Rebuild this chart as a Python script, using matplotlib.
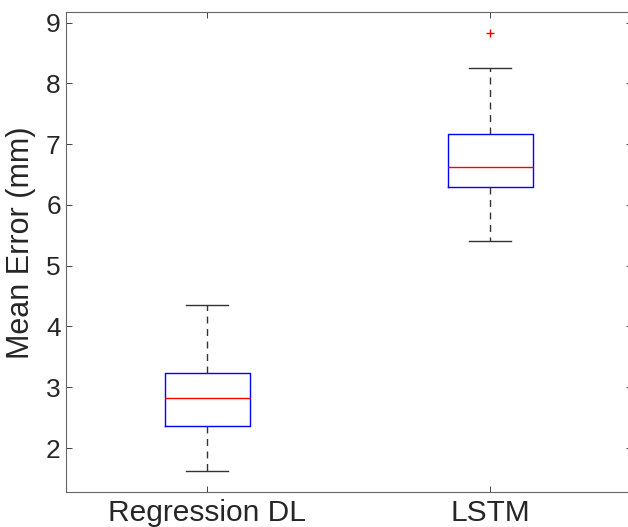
import matplotlib
matplotlib.use('Agg')
import matplotlib.pyplot as plt

# box statistics
labels = ['Regression DL', 'LSTM']
whislo = [1.62, 5.41]
q1 = [2.37, 6.30]
med = [2.82, 6.62]
q3 = [3.23, 7.16]
whishi = [4.35, 8.25]
fliers = [[], [8.83]]

plt.rcParams['font.family'] = ['Liberation Sans', 'DejaVu Sans']

stats = []
for i in range(len(labels)):
    stats.append({'label': labels[i], 'whislo': whislo[i], 'q1': q1[i], 'med': med[i],
                  'q3': q3[i], 'whishi': whishi[i], 'fliers': fliers[i]})

fig = plt.figure(figsize=(6.28, 5.27), dpi=100)
ax = fig.add_axes([65.7 / 628, 35 / 527, 566 / 628, 480 / 527])

ax.bxp(stats, positions=[1, 2], widths=0.3,
       boxprops=dict(color='#0000ff', linewidth=1.0),
       medianprops=dict(color='#ff0000', linewidth=1.0),
       whiskerprops=dict(color='#333333', linestyle=(0, (5, 4)), linewidth=1.0),
       capprops=dict(color='#333333', linewidth=1.0),
       capwidths=0.15,
       flierprops=dict(marker='+', markeredgecolor='#ff0000', markersize=6, linestyle='none'))

ax.set_xlim(0.5, 2.5)
ax.set_ylim(1.276, 9.176)
ax.set_yticks(range(2, 10))
ax.set_ylabel('Mean Error (mm)', fontsize=22, color='#262626')
ax.yaxis.set_label_coords(-0.052, 0.52)
ax.tick_params(direction='in', top=True, right=True, labelsize=19,
               colors='#262626', length=4, width=0.6)
ax.tick_params(axis='x', pad=5, labelsize=21.5)
for s in ax.spines.values():
    s.set_color('#666666')
    s.set_linewidth(0.8)

fig.savefig('out.png', dpi=100)
